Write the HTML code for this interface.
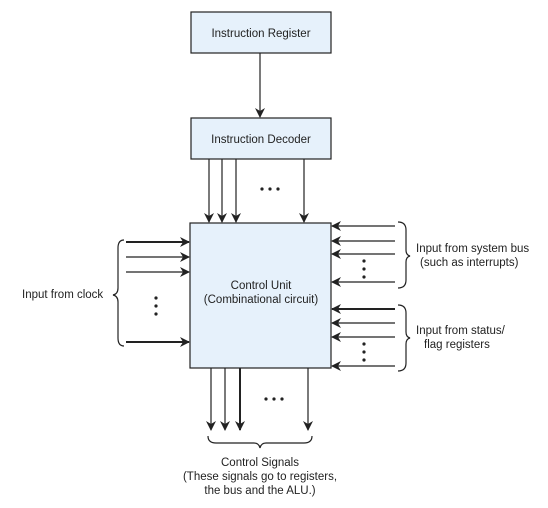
<!DOCTYPE html>
<html><head><style>body{margin:0;background:#fff}svg{display:block}text{font-family:"Liberation Sans",sans-serif;font-size:11.5px;fill:#222}</style></head><body>
<svg width="548" height="508" viewBox="0 0 548 508">
<defs><marker id="a" markerWidth="10" markerHeight="10" refX="9" refY="5" orient="auto" markerUnits="userSpaceOnUse"><path d="M0,0 L10,5 L0,10 L3,5Z" fill="#222"/></marker></defs>
<g stroke="#222" fill="#e6f1fb" stroke-width="1.2">
<rect x="191" y="12" width="140" height="41"/>
<rect x="191" y="118" width="140" height="41"/>
<rect x="190" y="223" width="141" height="145"/>
</g>
<text x="261" y="37" text-anchor="middle">Instruction Register</text>
<text x="261" y="143" text-anchor="middle">Instruction Decoder</text>
<text x="261" y="289" text-anchor="middle">Control Unit</text>
<text x="261" y="303" text-anchor="middle">(Combinational circuit)</text>
<g stroke="#222" stroke-width="1.2" marker-end="url(#a)">
<line x1="260" y1="53" x2="260" y2="117"/>
<line x1="209" y1="159" x2="209" y2="222"/>
<line x1="222" y1="159" x2="222" y2="222"/>
<line x1="236" y1="159" x2="236" y2="222"/>
<line x1="304" y1="159" x2="304" y2="222"/>
<line x1="126" y1="242" x2="189" y2="242" stroke-width="2"/>
<line x1="126" y1="257" x2="189" y2="257"/>
<line x1="126" y1="272" x2="189" y2="272"/>
<line x1="126" y1="342" x2="189" y2="342" stroke-width="2"/>
<line x1="395" y1="226" x2="332" y2="226"/>
<line x1="395" y1="241" x2="332" y2="241"/>
<line x1="395" y1="254" x2="332" y2="254"/>
<line x1="395" y1="282" x2="332" y2="282"/>
<line x1="395" y1="309" x2="332" y2="309" stroke-width="2"/>
<line x1="395" y1="323" x2="332" y2="323"/>
<line x1="395" y1="337" x2="332" y2="337"/>
<line x1="395" y1="366" x2="332" y2="366"/>
<line x1="211" y1="368" x2="211" y2="430"/>
<line x1="225" y1="368" x2="225" y2="430"/>
<line x1="240" y1="368" x2="240" y2="430" stroke-width="2"/>
<line x1="308" y1="368" x2="308" y2="430"/>
</g>
<g fill="#222">
<circle cx="262" cy="189" r="1.6"/><circle cx="270" cy="189" r="1.6"/><circle cx="278" cy="189" r="1.6"/>
<circle cx="266" cy="399" r="1.6"/><circle cx="274" cy="399" r="1.6"/><circle cx="282" cy="399" r="1.6"/>
<circle cx="156" cy="298" r="1.6"/><circle cx="156" cy="306" r="1.6"/><circle cx="156" cy="314" r="1.6"/>
<circle cx="364" cy="261" r="1.6"/><circle cx="364" cy="269" r="1.6"/><circle cx="364" cy="277" r="1.6"/>
<circle cx="364" cy="344" r="1.6"/><circle cx="364" cy="352" r="1.6"/><circle cx="364" cy="360" r="1.6"/>
</g>
<g stroke="#222" stroke-width="1.2" fill="none">
<path d="M124,240 Q118,240 118,248 L118,288 Q118,294 113,295 Q118,296 118,302 L118,338 Q118,346 124,346"/>
<path d="M398,222 Q406,222 406,230 L406,250 Q406,255 410,256 Q406,257 406,262 L406,280 Q406,288 398,288"/>
<path d="M398,305 Q406,305 406,313 L406,332 Q406,337 410,338 Q406,339 406,344 L406,363 Q406,371 398,371"/>
<path d="M208,436 Q208,443 216,443 L254,443 Q259,443 260,448 Q261,443 266,443 L304,443 Q312,443 312,436"/>
</g>
<text x="22" y="298">Input from clock</text>
<text x="416" y="252">Input from system bus</text>
<text x="420" y="266">(such as interrupts)</text>
<text x="416" y="334">Input from status/</text>
<text x="424" y="348">flag registers</text>
<text x="260" y="466" text-anchor="middle">Control Signals</text>
<text x="260" y="480" text-anchor="middle">(These signals go to registers,</text>
<text x="260" y="494" text-anchor="middle">the bus and the ALU.)</text>
</svg>
</body></html>
